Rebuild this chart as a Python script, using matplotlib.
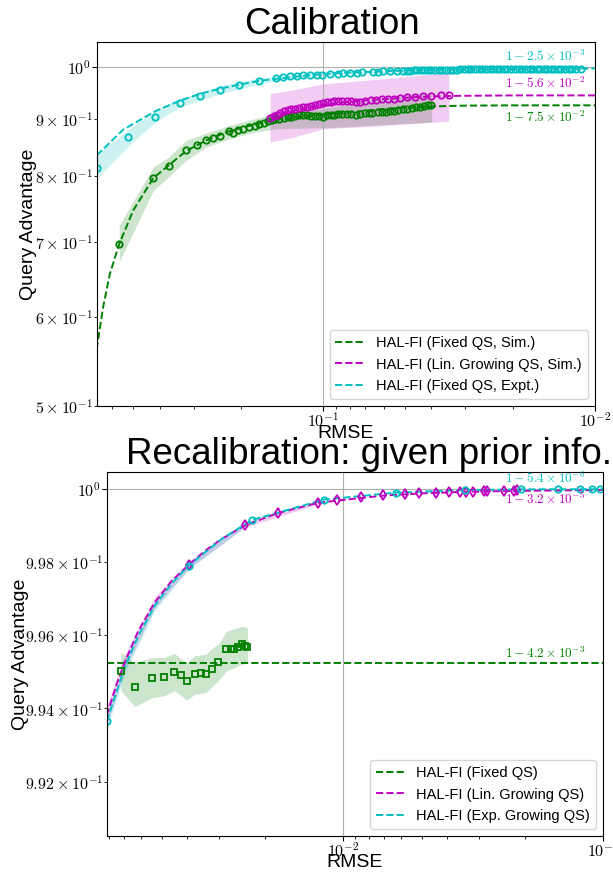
import numpy as np
import matplotlib
matplotlib.use('Agg')
import matplotlib.pyplot as plt

plt.rcParams['font.family'] = 'serif'
plt.rcParams['font.serif'] = ['cmr10']
plt.rcParams['mathtext.fontset'] = 'cm'
plt.rcParams['axes.formatter.use_mathtext'] = True
plt.rcParams['axes.unicode_minus'] = True
SANS = 'Liberation Sans'

# ---------- Calibration (top) ----------
g_x = [0.5634, 0.4223, 0.3707, 0.3200, 0.2917, 0.2698, 0.2536, 0.2397, 0.2217, 0.2154,
       0.2054, 0.1969, 0.1871, 0.1783, 0.1720,
       0.165, 0.160, 0.155, 0.150, 0.145, 0.140, 0.135, 0.131, 0.127, 0.123,
       0.119, 0.115, 0.111, 0.107, 0.104, 0.100, 0.097, 0.094, 0.091, 0.088,
       0.085, 0.082, 0.079, 0.076, 0.073, 0.070, 0.068, 0.066, 0.063, 0.061,
       0.059, 0.057, 0.055, 0.053, 0.051, 0.049, 0.047, 0.0455, 0.044, 0.0425,
       0.041, 0.040]
g_y = [0.6963, 0.7970, 0.8163, 0.8435, 0.8534, 0.8609, 0.8650, 0.8686, 0.8775, 0.8747,
       0.8801, 0.8819, 0.8858, 0.8876, 0.8900,
       0.893, 0.895, 0.897, 0.899, 0.900, 0.902, 0.903, 0.9035, 0.905, 0.906,
       0.906, 0.906, 0.9055, 0.905, 0.9045, 0.904, 0.906, 0.907, 0.907, 0.908,
       0.909, 0.909, 0.908, 0.906, 0.908, 0.910, 0.910, 0.911, 0.912, 0.912,
       0.913, 0.914, 0.915, 0.916, 0.918, 0.919, 0.920, 0.921, 0.922, 0.923,
       0.925, 0.926]
g_band_x = [0.5634, 0.4223, 0.3707, 0.3200, 0.2698, 0.2217, 0.1783, 0.1484, 0.1000, 0.0797, 0.0399]
g_band_hi = [0.7235, 0.8152, 0.8321, 0.8609, 0.8739, 0.8876, 0.9000, 0.9104, 0.9186, 0.9280, 0.9500]
g_band_lo = [0.6714, 0.7772, 0.7988, 0.8265, 0.8492, 0.8638, 0.8756, 0.8819, 0.8835, 0.8858, 0.8938]
g_fit_x = [0.6823, 0.6455, 0.6095, 0.5634, 0.5005, 0.4223, 0.3707, 0.3200, 0.2698, 0.2217,
           0.1783, 0.1484, 0.1000, 0.0800, 0.0600, 0.0400, 0.0300, 0.0200, 0.0100]
g_fit_y = [0.5614, 0.6124, 0.6556, 0.6963, 0.7460, 0.7970, 0.8180, 0.8423, 0.8609, 0.8775,
           0.8896, 0.8992, 0.9079, 0.9120, 0.9180, 0.9230, 0.9245, 0.9250, 0.9250]

m_x = [0.157, 0.152, 0.148, 0.144, 0.140, 0.135, 0.131, 0.127, 0.123, 0.119,
       0.115, 0.111, 0.107, 0.104, 0.100, 0.097, 0.094, 0.091, 0.088, 0.085,
       0.082, 0.079, 0.076, 0.073, 0.070, 0.067, 0.064, 0.061, 0.058, 0.055,
       0.052, 0.049, 0.046, 0.043, 0.040, 0.037, 0.0345]
m_y = [0.901, 0.905, 0.907, 0.910, 0.9135, 0.916, 0.918, 0.919, 0.920, 0.921,
       0.922, 0.924, 0.926, 0.927, 0.929, 0.931, 0.932, 0.933, 0.934, 0.934,
       0.934, 0.934, 0.932, 0.932, 0.934, 0.935, 0.936, 0.937, 0.938, 0.938,
       0.939, 0.940, 0.941, 0.942, 0.9425, 0.944, 0.945]
m_band_x = [0.1570, 0.1289, 0.1000, 0.0601, 0.0345]
m_band_hi = [0.9471, 0.9549, 0.9666, 0.9766, 0.9898]
m_band_lo = [0.8580, 0.8666, 0.8817, 0.8876, 0.8955]
m_fit_x = [0.1570, 0.1200, 0.1000, 0.0800, 0.0600, 0.0450, 0.0345, 0.0200, 0.0100]
m_fit_y = [0.9050, 0.9180, 0.9260, 0.9320, 0.9370, 0.9410, 0.9430, 0.9440, 0.9440]

c_x = [0.680, 0.525, 0.415, 0.337, 0.284, 0.240, 0.205, 0.172, 0.1487, 0.1404,
       0.1326, 0.1253, 0.1185, 0.1119, 0.1058, 0.1014, 0.0945, 0.0881, 0.0844, 0.0797,
       0.0754, 0.0722, 0.0655, 0.0627, 0.0601, 0.0568, 0.0537,
       0.0508, 0.049, 0.048, 0.0465, 0.045, 0.0437, 0.0425, 0.0412, 0.040, 0.0388,
       0.0376, 0.0365, 0.0354, 0.0343, 0.0333, 0.0323, 0.0313, 0.0303, 0.0294, 0.0285,
       0.0276, 0.0268, 0.026, 0.0252, 0.0244, 0.0237, 0.023, 0.0223, 0.0216, 0.021,
       0.0203, 0.0197, 0.0191, 0.0185, 0.018, 0.0174, 0.0169, 0.0164, 0.0159, 0.0154,
       0.015, 0.0145, 0.0141, 0.0137, 0.0133, 0.0129, 0.0125, 0.0121, 0.0117, 0.0113]
c_y = [0.814, 0.867, 0.904, 0.929, 0.9425, 0.9554, 0.9647, 0.9726, 0.9790, 0.9812,
       0.9818, 0.9826, 0.9838, 0.9846, 0.9852, 0.9852, 0.9858, 0.9872, 0.9878, 0.9886,
       0.9892, 0.9898, 0.9912, 0.9912, 0.9919, 0.9919, 0.9927,
       0.9927, 0.9930, 0.9933, 0.9935, 0.9937, 0.9939, 0.9941, 0.9942, 0.9944, 0.9945,
       0.9946, 0.9948, 0.9949, 0.9950, 0.9951, 0.9952, 0.9954, 0.9955, 0.9956, 0.9957,
       0.9958, 0.9958, 0.9959, 0.9960, 0.9961, 0.9961, 0.9962, 0.9963, 0.9963, 0.9964,
       0.9965, 0.9965, 0.9966, 0.9966, 0.9967, 0.9967, 0.9968, 0.9968, 0.9968, 0.9969,
       0.9969, 0.9969, 0.9970, 0.9970, 0.9970, 0.9971, 0.9971, 0.9971, 0.9972, 0.9972]
c_band_x = [0.682, 0.525, 0.415, 0.337, 0.240, 0.172, 0.1326, 0.0797, 0.0342, 0.0113]
c_band_hi = [0.838, 0.879, 0.917, 0.9375, 0.963, 0.978, 0.9846, 0.9905, 0.9960, 0.9985]
c_band_lo = [0.796, 0.850, 0.894, 0.922, 0.947, 0.9666, 0.9778, 0.9870, 0.9930, 0.9962]
c_fit_x = [0.682, 0.545, 0.415, 0.337, 0.284, 0.240, 0.205, 0.172, 0.1326, 0.1000,
           0.0797, 0.0600, 0.0500, 0.0400, 0.0300, 0.0200, 0.0150, 0.0100]
c_fit_y = [0.835, 0.880, 0.914, 0.934, 0.947, 0.957, 0.9647, 0.9726, 0.9798, 0.9866,
           0.9892, 0.9920, 0.9932, 0.9945, 0.9956, 0.9965, 0.9970, 0.9975]

# ---------- Recalibration (bottom) ----------
g2_x = [0.0718, 0.0634, 0.0545, 0.0492, 0.0447, 0.0420, 0.0401, 0.0373, 0.0354, 0.0338,
        0.0321, 0.0303, 0.0282, 0.0270, 0.0263, 0.0255, 0.0245, 0.0240, 0.0234]
g2_y = [0.99502, 0.99459, 0.99484, 0.99487, 0.99500, 0.99492, 0.99474, 0.99494, 0.99498, 0.99494,
        0.99508, 0.99527, 0.99562, 0.99562, 0.99562, 0.99569, 0.99576, 0.99571, 0.99569]
g2_hi = [0.99553, 0.99525, 0.99539, 0.99539, 0.99550, 0.99535, 0.99525, 0.99544, 0.99546, 0.99548,
         0.99563, 0.99576, 0.99610, 0.99615, 0.99618, 0.99621, 0.99624, 0.99622, 0.99620]
g2_lo = [0.99448, 0.99405, 0.99429, 0.99434, 0.99448, 0.99434, 0.99422, 0.99439, 0.99441, 0.99443,
         0.99459, 0.99475, 0.99502, 0.99508, 0.99510, 0.99516, 0.99521, 0.99522, 0.99523]
g2_level = 0.99523

m2_x = [0.0394, 0.0240, 0.0179, 0.01255, 0.0106, 0.00857, 0.00706, 0.00579, 0.00510, 0.00440,
        0.00391, 0.00356, 0.00337, 0.00318, 0.00288, 0.00281, 0.00242, 0.00221, 0.00215]
m2_y = [0.99792, 0.99900, 0.99934, 0.99962, 0.99970, 0.99978, 0.99983, 0.99987, 0.99988, 0.99990,
        0.99991, 0.99992, 0.99993, 0.99993, 0.99994, 0.99994, 0.99995, 0.99995, 0.99996]
m2_fit_x = [0.0814, 0.0746, 0.0690, 0.0615, 0.0531, 0.0457, 0.0394, 0.0340, 0.0294, 0.0240,
            0.0179, 0.01255, 0.0100, 0.0070, 0.0050, 0.0035, 0.0025, 0.0015, 0.0010]
m2_fit_y = [0.99381, 0.99466, 0.99530, 0.99612, 0.99690, 0.99749, 0.99792, 0.99831, 0.99863, 0.99900,
            0.99934, 0.99962, 0.99970, 0.99982, 0.99988, 0.99992, 0.99994, 0.99996, 0.99997]
m2_band_x = [0.0814, 0.0690, 0.0531, 0.0394, 0.0240, 0.0125]
m2_band_hi = [0.99405, 0.99550, 0.99705, 0.99802, 0.99905, 0.99965]
m2_band_lo = [0.99355, 0.99510, 0.99675, 0.99782, 0.99895, 0.99959]

c2_x = [0.0814, 0.0394, 0.0225, 0.01186, 0.00629, 0.00340, 0.00208, 0.00149, 0.00123, 0.00111, 0.00103]
c2_y = [0.99365, 0.99790, 0.99915, 0.99971, 0.99990, 0.99997, 0.99999, 0.999995, 0.999995, 0.999995, 0.999995]
c2_fit_x = [0.0814, 0.0690, 0.0615, 0.0531, 0.0457, 0.0394, 0.0294, 0.0225, 0.01186, 0.0100,
            0.0063, 0.0034, 0.0020, 0.0010]
c2_fit_y = [0.99365, 0.99517, 0.99599, 0.99681, 0.99742, 0.99790, 0.99863, 0.99915, 0.99971, 0.99976,
            0.99990, 0.99997, 0.99999, 0.999995]
c2_band_x = [0.0814, 0.0690, 0.0531, 0.0394, 0.0225, 0.0119]
c2_band_hi = [0.99385, 0.99532, 0.99693, 0.99798, 0.99918, 0.99973]
c2_band_lo = [0.99340, 0.99500, 0.99668, 0.99780, 0.99910, 0.99969]

fig = plt.figure(figsize=(6.13, 8.72), dpi=100)
ax1 = fig.add_axes([0.1577, 0.5344, 0.8129, 0.4169])
ax2 = fig.add_axes([0.1741, 0.0413, 0.8101, 0.4178])

mk = dict(ms=4.6, mew=1.3, mfc='none', ls='none')

# top panel
ax1.fill_between(g_band_x, g_band_lo, g_band_hi, color='g', alpha=0.2, lw=0)
ax1.fill_between(m_band_x, m_band_lo, m_band_hi, color='m', alpha=0.2, lw=0)
ax1.fill_between(c_band_x, c_band_lo, c_band_hi, color='c', alpha=0.2, lw=0)
ax1.plot(g_fit_x, g_fit_y, '--', color='g', lw=1.4, label='HAL-FI (Fixed QS, Sim.)')
ax1.plot(m_fit_x, m_fit_y, '--', color='m', lw=1.4, label='HAL-FI (Lin. Growing QS, Sim.)')
ax1.plot(c_fit_x, c_fit_y, '--', color='c', lw=1.4, label='HAL-FI (Fixed QS, Expt.)')
ax1.plot(g_x, g_y, 'o', color='g', **mk)
ax1.plot(m_x, m_y, 'o', color='m', **mk)
ax1.plot(c_x, c_y, 'o', color='c', **mk)

ax1.set_xscale('log')
ax1.set_yscale('log')
ax1.set_xlim(0.682, 0.01)
ax1.set_ylim(0.5, 1.052)
ax1.grid(True, which='major')
ax1.text(0.98, 0.961, r'$1-2.5\times10^{-3}$', color='c', fontsize=9.5, ha='right', va='center', transform=ax1.transAxes)
ax1.text(0.98, 0.888, r'$1-5.6\times10^{-2}$', color='m', fontsize=9.5, ha='right', va='center', transform=ax1.transAxes)
ax1.text(0.98, 0.793, r'$1-7.5\times10^{-2}$', color='g', fontsize=9.5, ha='right', va='center', transform=ax1.transAxes)
ax1.set_title('Calibration', fontsize=26.5, family=SANS, x=0.473, pad=3.5)
ax1.set_xlabel('RMSE', fontsize=14, family=SANS)
ax1.set_ylabel('Query Advantage', fontsize=14, family=SANS)
ax1.xaxis.set_label_coords(0.5, -0.052)
ax1.yaxis.set_label_coords(-0.12, 0.5)
ax1.legend(loc='lower right', prop={'family': SANS, 'size': 10.5})

# bottom panel
ax2.fill_between(g2_x, g2_lo, g2_hi, color='g', alpha=0.2, lw=0)
ax2.fill_between(m2_band_x, m2_band_lo, m2_band_hi, color='m', alpha=0.2, lw=0)
ax2.fill_between(c2_band_x, c2_band_lo, c2_band_hi, color='c', alpha=0.2, lw=0)
ax2.axhline(g2_level, color='g', ls='--', lw=1.4, label='HAL-FI (Fixed QS)')
ax2.plot(m2_fit_x, m2_fit_y, '--', color='m', lw=1.4, label='HAL-FI (Lin. Growing QS)')
ax2.plot(c2_fit_x, c2_fit_y, '--', color='c', lw=1.4, label='HAL-FI (Exp. Growing QS)')
ax2.plot(g2_x, g2_y, 's', color='g', **mk)
ax2.plot(m2_x, m2_y, 'd', color='m', **mk)
ax2.plot(c2_x, c2_y, 'o', color='c', **mk)

ax2.set_xscale('log')
ax2.set_yscale('log')
ax2.set_xlim(0.0814, 0.001)
ax2.set_ylim(0.99053, 1.000475)
ax2.grid(True, which='major')
ax2.text(0.964, 0.983, r'$1-5.4\times10^{-6}$', color='c', fontsize=9.5, ha='right', va='center', transform=ax2.transAxes)
ax2.text(0.964, 0.925, r'$1-3.2\times10^{-5}$', color='m', fontsize=9.5, ha='right', va='center', transform=ax2.transAxes)
ax2.text(0.964, 0.502, r'$1-4.2\times10^{-3}$', color='g', fontsize=9.5, ha='right', va='center', transform=ax2.transAxes)
ax2.set_title('Recalibration: given prior info.', fontsize=26.5, family=SANS, x=0.039, ha='left', pad=3.5)
ax2.set_xlabel('RMSE', fontsize=14, family=SANS)
ax2.set_ylabel('Query Advantage', fontsize=14, family=SANS)
ax2.xaxis.set_label_coords(0.5, -0.05)
ax2.yaxis.set_label_coords(-0.157, 0.5)
ax2.legend(loc='lower right', prop={'family': SANS, 'size': 10.5})

for ax in (ax1, ax2):
    ax.tick_params(which='both', labelsize=11.5)
    ax.tick_params(axis='y', which='both', pad=0.5)
    ax.tick_params(axis='x', which='both', pad=0.5)

fig.savefig('out.png', dpi=100)
